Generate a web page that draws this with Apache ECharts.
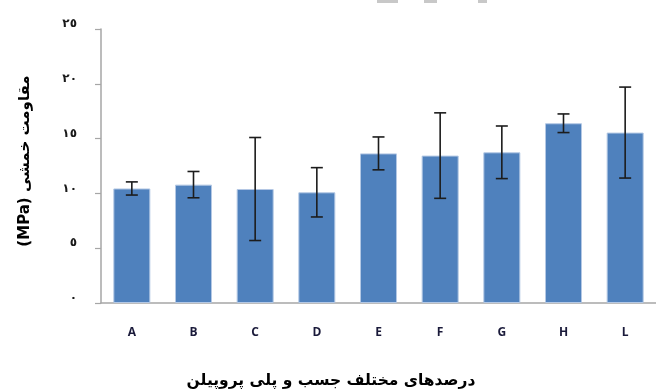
<!DOCTYPE html>
<html>
<head>
<meta charset="utf-8">
<script src="https://cdn.jsdelivr.net/npm/echarts@6/dist/echarts.min.js"></script>
<style>
  html, body { margin: 0; padding: 0; background: #ffffff; }
  #chart { width: 656px; height: 389px; }
</style>
</head>
<body>
<div id="chart"></div>
<script>
// Flexural strength by adhesive / polypropylene mix
const categories = ['A', 'B', 'C', 'D', 'E', 'F', 'G', 'H', 'L'];
const strength = [10.45, 10.8, 10.4, 10.1, 13.65, 13.45, 13.75, 16.4, 15.55];
const stdDev = [0.6, 1.2, 4.7, 2.25, 1.5, 3.9, 2.4, 0.85, 4.15];
const yTicks = ['٠', '٥', '١٠', '١٥', '٢٠', '٢٥'];

// written with the Latin unit first so it lands at the bottom once rotated
const yTitle = '(MPa) مقاومت خمشی';
const xTitle = 'درصدهای مختلف جسب و پلی پروپیلن';

const arabicFont = '"DejaVu Sans", "Noto Sans", sans-serif';
const axisGray = '#a6a6a6';

const errorData = categories.map((c, i) => [i, strength[i] - stdDev[i], strength[i] + stdDev[i]]);

const chart = echarts.init(document.getElementById('chart'));
chart.setOption({
  animation: false,
  backgroundColor: '#ffffff',
  grid: { left: 101, top: 29, width: 564, height: 274 },
  xAxis: {
    type: 'category',
    data: categories,
    axisLine: { lineStyle: { color: axisGray, width: 1.5 } },
    axisTick: { show: false },
    axisLabel: {
      margin: 24,
      color: '#1a1a3a',
      fontFamily: '"Open Sans", "Liberation Sans", sans-serif',
      fontWeight: 'bold',
      fontSize: 12
    }
  },
  yAxis: {
    type: 'value',
    min: 0,
    max: 25,
    interval: 5,
    splitLine: { show: false },
    axisLine: { show: true, lineStyle: { color: axisGray, width: 1.5 } },
    axisTick: { show: true, length: 6, lineStyle: { color: axisGray, width: 1.2 } },
    axisLabel: {
      margin: 24,
      color: '#1a1a1a',
      fontFamily: arabicFont,
      fontWeight: 'bold',
      fontSize: 12,
      verticalAlign: 'bottom',
      lineHeight: 10,
      formatter: v => yTicks[Math.round(v / 5)]
    }
  },
  series: [
    {
      type: 'bar',
      data: strength,
      barWidth: 37,
      itemStyle: { color: '#4f81bd', borderColor: '#b4c8e4', borderWidth: 1 }
    },
    {
      type: 'custom',
      data: errorData,
      z: 10,
      renderItem: function (params, api) {
        const x = api.value(0);
        const lo = api.coord([x, api.value(1)]);
        const hi = api.coord([x, api.value(2)]);
        const cap = 6;
        const style = { stroke: '#1c1c1c', lineWidth: 1.6 };
        return {
          type: 'group',
          children: [
            { type: 'line', shape: { x1: hi[0], y1: hi[1], x2: lo[0], y2: lo[1] }, style: style },
            { type: 'line', shape: { x1: hi[0] - cap, y1: hi[1], x2: hi[0] + cap, y2: hi[1] }, style: style },
            { type: 'line', shape: { x1: lo[0] - cap, y1: lo[1], x2: lo[0] + cap, y2: lo[1] }, style: style }
          ]
        };
      }
    }
  ],
  graphic: [
    {
      type: 'text',
      x: 331,
      y: 381,
      style: {
        text: xTitle,
        align: 'center',
        verticalAlign: 'middle',
        fill: '#000000',
        font: 'bold 15.5px ' + arabicFont
      }
    },
    {
      type: 'text',
      x: 25,
      y: 161,
      rotation: Math.PI / 2,
      style: {
        text: yTitle,
        align: 'center',
        verticalAlign: 'middle',
        fill: '#000000',
        font: 'bold 15px ' + arabicFont
      }
    },
    { type: 'rect', shape: { x: 377, y: 0, width: 21, height: 3 }, style: { fill: '#c8c8c8' } },
    { type: 'rect', shape: { x: 424, y: 0, width: 13, height: 3 }, style: { fill: '#c8c8c8' } },
    { type: 'rect', shape: { x: 478, y: 0, width: 9, height: 3 }, style: { fill: '#c8c8c8' } }
  ]
});
</script>
</body>
</html>
